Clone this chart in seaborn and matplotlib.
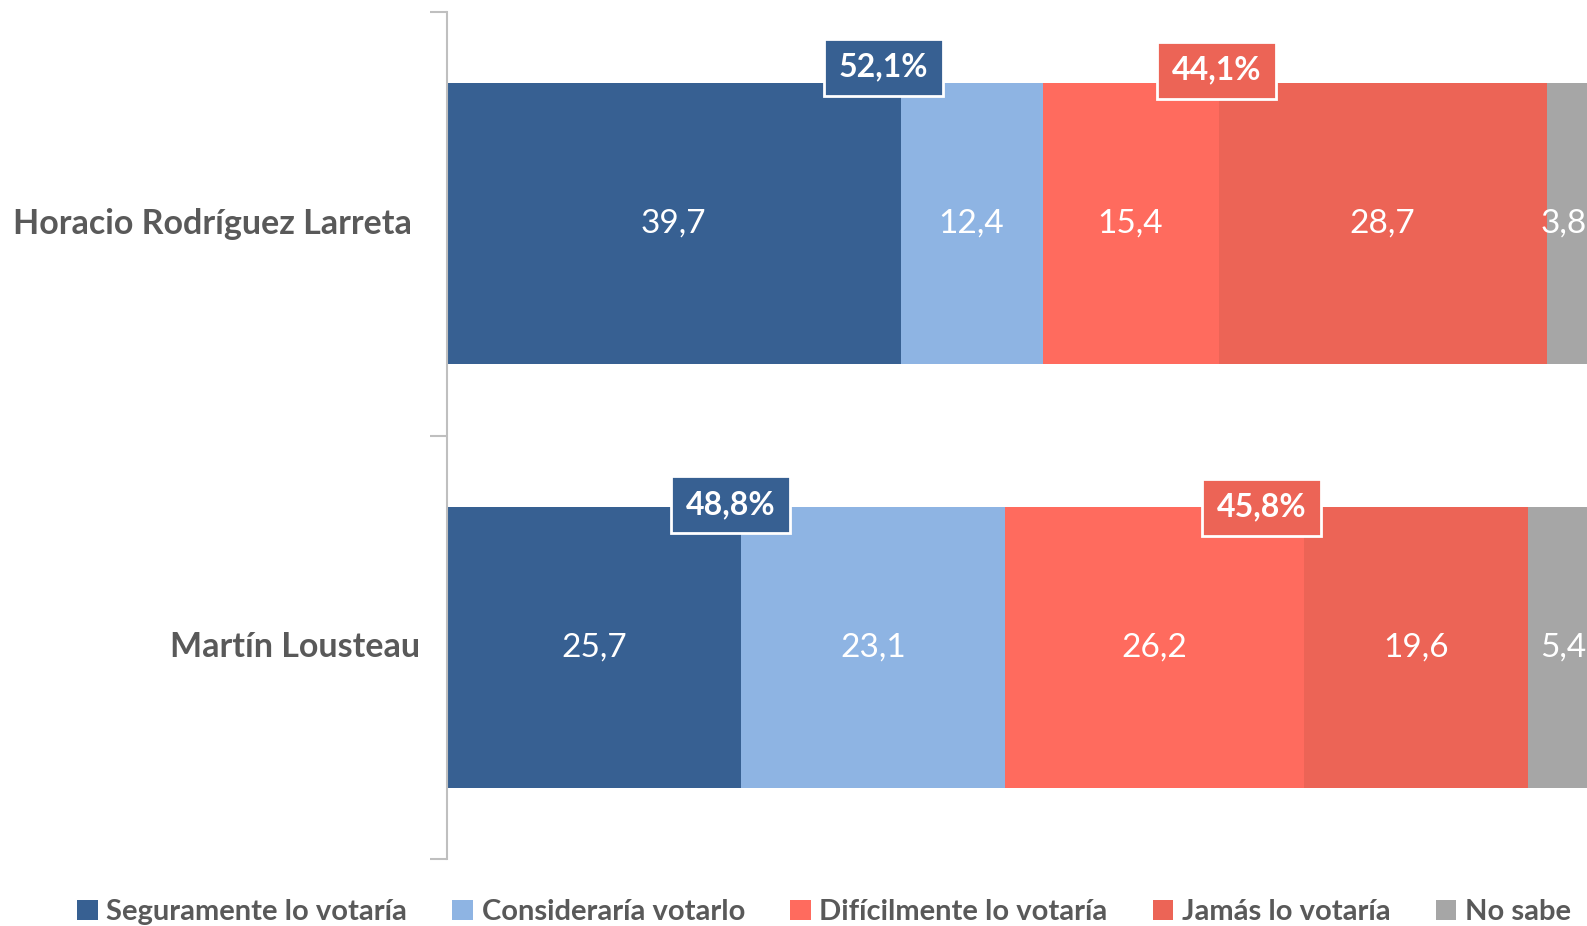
import matplotlib
matplotlib.use("Agg")
import matplotlib.pyplot as plt
import seaborn as sns
import pandas as pd
import numpy as np
from matplotlib.patches import Rectangle, Patch

# ---- data ----
candidates = ["Horacio Rodríguez Larreta", "Martín Lousteau"]
series = ["Seguramente lo votaría", "Consideraría votarlo", "Difícilmente lo votaría",
          "Jamás lo votaría", "No sabe"]
seguramente = [39.7, 25.7]
consideraria = [12.4, 23.1]
dificilmente = [15.4, 26.2]
jamas = [28.7, 19.6]
no_sabe = [3.8, 5.4]

colors = ["#376092", "#8EB4E3", "#FF6B5E", "#EC6456", "#A6A6A6"]
text_gray = "#595959"

sns.set_theme(style="white")
plt.rcParams["font.family"] = ["Lato", "DejaVu Sans"]

W, H = 1587, 926
fig = plt.figure(figsize=(W / 100, H / 100), dpi=100)
ax_left, ax_right, ax_top, ax_bot = 447, 1590, 12, 859
ax = fig.add_axes([ax_left / W, 1 - ax_bot / H, (ax_right - ax_left) / W, (ax_bot - ax_top) / H])

values = [seguramente, consideraria, dificilmente, jamas, no_sabe]
cum = np.cumsum(np.array(values), axis=0)  # cumulative ends
bar_h = 0.664

# draw from the longest cumulative to shortest so segments overlay
for k in range(len(series) - 1, -1, -1):
    df = pd.DataFrame({"cand": candidates, "x": cum[k]})
    sns.barplot(data=df, x="x", y="cand", orient="h", color=colors[k], width=bar_h,
                linewidth=0, saturation=1, ax=ax)

ax.set_xlim(0, 100)
ax.set_ylim(1.5, -0.5)

# segment labels
for i in range(len(candidates)):
    start = 0
    for k in range(len(series)):
        v = values[k][i]
        txt = f"{v:.1f}".replace(".", ",")
        if k == len(series) - 1:
            ax.text(99.7, i, txt, ha="right", va="center", color="white", fontsize=24)
        else:
            ax.text(start + v / 2, i, txt, ha="center", va="center", color="white", fontsize=24)
        start += v

# summary boxes (positive / negative totals)
pos_tot = [seguramente[i] + consideraria[i] for i in range(2)]
neg_tot = [dificilmente[i] + jamas[i] for i in range(2)]
px_x = (ax_right - ax_left) / 100.0
px_y = (ax_bot - ax_top) / 2.0
box_w = 119 / px_x
box_h = 57 / px_y
box_cx = [[38.2, 67.3], [24.8, 71.3]]
box_cy = [[-0.370, -0.363], [0.664, 0.669]]
box_cols = [colors[0], colors[3]]
for i in range(2):
    for j, tot in enumerate([pos_tot[i], neg_tot[i]]):
        cx, cy = box_cx[i][j], box_cy[i][j]
        ax.add_patch(Rectangle((cx - box_w / 2, cy - box_h / 2), box_w, box_h,
                               facecolor=box_cols[j], edgecolor="white", linewidth=2,
                               zorder=5, clip_on=False))
        ax.text(cx, cy, f"{tot:.1f}".replace(".", ",") + "%", ha="center", va="center",
                color="white", fontsize=23, fontweight="bold", zorder=6)

# axes styling
for s in ["top", "right", "bottom"]:
    ax.spines[s].set_visible(False)
ax.spines["left"].set_color("#BFBFBF")
ax.spines["left"].set_linewidth(1.5)
ax.set_xticks([])
ax.set_xlabel("")
ax.set_ylabel("")
ax.set_yticks([0, 1])
ax.set_yticklabels(["", ""])
ax.tick_params(axis="y", which="major", length=0)
ax.set_yticks([-0.5, 0.5, 1.5], minor=True)
ax.tick_params(axis="y", which="minor", length=12, width=1.5, color="#BFBFBF", left=True)

# category labels
label_right_px = [412, 420]
for i, name in enumerate(candidates):
    ax.text((label_right_px[i] - ax_left) / (ax_right - ax_left), i, name,
            transform=ax.get_yaxis_transform(), ha="right", va="center",
            fontsize=24.5, fontweight="bold", color=text_gray)

# legend
handles = [Patch(facecolor=c, edgecolor="none") for c in colors]
leg = fig.legend(handles, series, loc="center", bbox_to_anchor=(824 / W, 1 - 912 / H),
                 ncol=5, frameon=False, handlelength=0.7, handleheight=0.7,
                 handletextpad=0.3, columnspacing=1.55, borderpad=0,
                 prop={"family": "Lato", "weight": "bold", "size": 21})
for t in leg.get_texts():
    t.set_color(text_gray)

fig.savefig("out.png", dpi=100)
